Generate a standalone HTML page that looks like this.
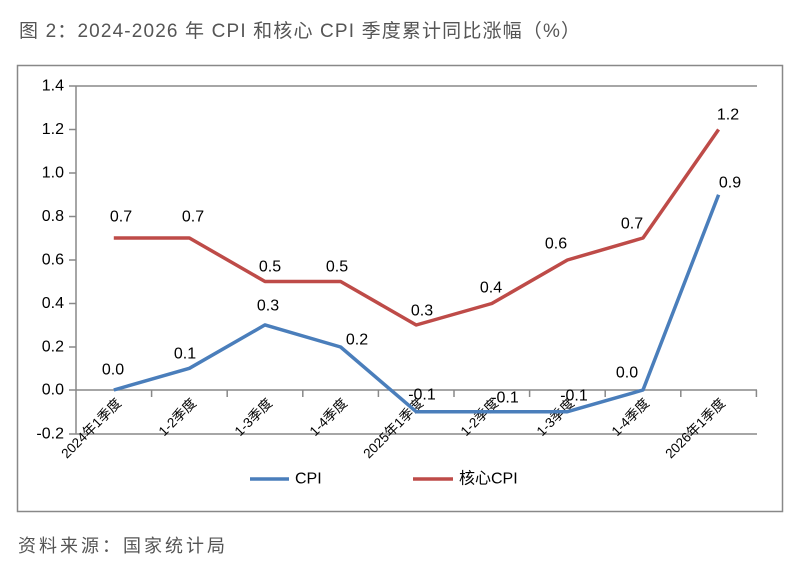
<!DOCTYPE html>
<html><head><meta charset="utf-8"><style>
body{margin:0;background:#fff;width:800px;height:575px;overflow:hidden}
svg{display:block}
</style></head><body>
<svg width="800" height="575" xmlns="http://www.w3.org/2000/svg" font-family="'Liberation Sans','Noto Sans CJK SC',sans-serif">
<text x="19" y="37" font-size="19" fill="#555" textLength="561" lengthAdjust="spacing" font-family="'Liberation Sans','Noto Sans CJK SC',sans-serif">图 2：2024-2026 年 CPI 和核心 CPI 季度累计同比涨幅（%）</text>
<rect x="17.5" y="65.5" width="765" height="446" fill="none" stroke="#888" stroke-width="1.5"/>
<g stroke="#888" stroke-width="1.5">
<line x1="76" y1="86" x2="757" y2="86"/>
<line x1="76" y1="434" x2="757" y2="434"/>
<line x1="76" y1="390" x2="757" y2="390"/>
<line x1="76" y1="86" x2="76" y2="434"/>
<line x1="69" y1="86" x2="76" y2="86"/><line x1="69" y1="129.5" x2="76" y2="129.5"/><line x1="69" y1="173" x2="76" y2="173"/><line x1="69" y1="216.5" x2="76" y2="216.5"/><line x1="69" y1="260" x2="76" y2="260"/><line x1="69" y1="303.5" x2="76" y2="303.5"/><line x1="69" y1="347" x2="76" y2="347"/><line x1="69" y1="390" x2="76" y2="390"/><line x1="69" y1="434" x2="76" y2="434"/>
<line x1="151.6" y1="390" x2="151.6" y2="397"/><line x1="227.2" y1="390" x2="227.2" y2="397"/><line x1="302.8" y1="390" x2="302.8" y2="397"/><line x1="378.4" y1="390" x2="378.4" y2="397"/><line x1="454" y1="390" x2="454" y2="397"/><line x1="529.6" y1="390" x2="529.6" y2="397"/><line x1="605.2" y1="390" x2="605.2" y2="397"/><line x1="680.8" y1="390" x2="680.8" y2="397"/><line x1="756.4" y1="390" x2="756.4" y2="397"/>
</g>
<g font-size="16" fill="#000" text-anchor="end" dominant-baseline="central">
<text x="64" y="86">1.4</text><text x="64" y="129.5">1.2</text><text x="64" y="173">1.0</text><text x="64" y="216.5">0.8</text><text x="64" y="260">0.6</text><text x="64" y="303.5">0.4</text><text x="64" y="347">0.2</text><text x="64" y="390">0.0</text><text x="64" y="434">-0.2</text>
</g>
<g font-size="13.5" fill="#000" text-anchor="end">
<text transform="translate(122,404) rotate(-45)">2024年1季度</text>
<text transform="translate(197,404) rotate(-45)">1-2季度</text>
<text transform="translate(273,404) rotate(-45)">1-3季度</text>
<text transform="translate(348,404) rotate(-45)">1-4季度</text>
<text transform="translate(424,404) rotate(-45)">2025年1季度</text>
<text transform="translate(499,404) rotate(-45)">1-2季度</text>
<text transform="translate(575,404) rotate(-45)">1-3季度</text>
<text transform="translate(650,404) rotate(-45)">1-4季度</text>
<text transform="translate(726,404) rotate(-45)">2026年1季度</text>
</g>
<polyline fill="none" stroke="#4a7ebb" stroke-width="3.5" stroke-linejoin="round" points="113.8,390 189.4,368.3 265,324.9 340.6,347 416.2,411.7 491.8,411.7 567.4,411.7 643,390 718.6,194.7"/>
<polyline fill="none" stroke="#be4b48" stroke-width="3.5" stroke-linejoin="round" points="113.8,238 189.4,238 265,281.5 340.6,281.5 416.2,325 491.8,303.5 567.4,260 643,238 718.6,129.5"/>
<g font-size="16" fill="#000" text-anchor="middle" dominant-baseline="central">
<text x="113" y="370">0.0</text><text x="185" y="354">0.1</text><text x="268" y="306">0.3</text><text x="357" y="340">0.2</text><text x="422" y="395">-0.1</text><text x="505" y="398">-0.1</text><text x="574" y="396">-0.1</text><text x="627" y="373">0.0</text><text x="730" y="183">0.9</text>
<text x="121" y="217">0.7</text><text x="193" y="217">0.7</text><text x="270" y="267">0.5</text><text x="337" y="267">0.5</text><text x="422" y="311">0.3</text><text x="491" y="288">0.4</text><text x="556" y="244">0.6</text><text x="632" y="224">0.7</text><text x="728" y="115">1.2</text>
</g>
<line x1="250" y1="479" x2="289" y2="479" stroke="#4a7ebb" stroke-width="3.5"/>
<text x="295" y="479" font-size="16" dominant-baseline="central">CPI</text>
<line x1="413" y1="479" x2="453" y2="479" stroke="#be4b48" stroke-width="3.5"/>
<text x="459" y="479" font-size="16" dominant-baseline="central">核心CPI</text>
<text x="18" y="552" font-size="18" fill="#555" letter-spacing="3">资料来源：国家统计局</text>
</svg>
</body></html>
